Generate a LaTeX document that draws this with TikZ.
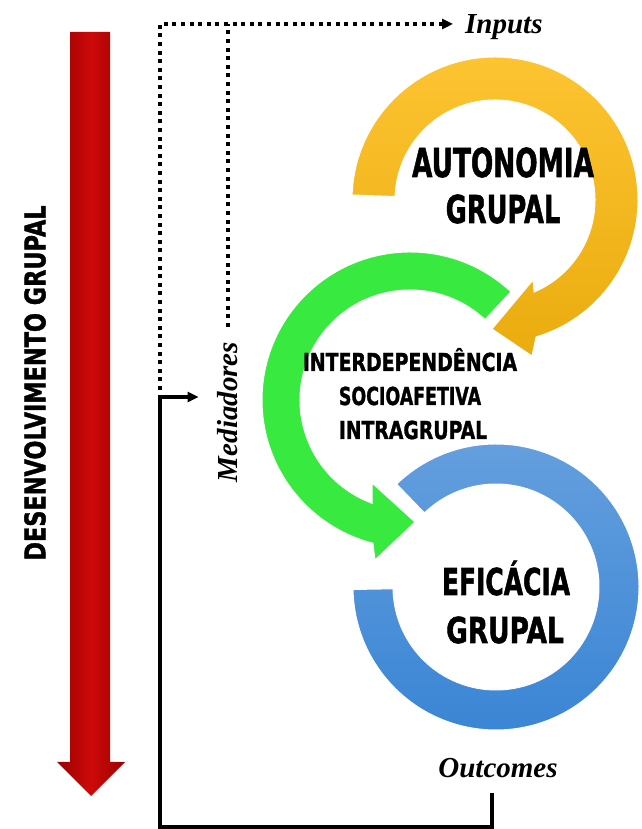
\documentclass[tikz,border=0pt]{standalone}
\usepackage{fontspec}
\setmainfont{Liberation Serif}
\newfontfamily\ringfont{DejaVu Sans}[BoldFeatures={FakeBold=1.6}]
\usetikzlibrary{arrows.meta,calc}
\definecolor{redA}{RGB}{205,10,10}
\definecolor{redB}{RGB}{155,0,0}
\definecolor{yelA}{RGB}{253,196,50}
\definecolor{yelB}{RGB}{234,172,14}
\definecolor{grnA}{RGB}{56,233,64}
\definecolor{bluA}{RGB}{102,160,222}
\definecolor{bluB}{RGB}{56,132,212}
\tikzset{
  lab/.style={font=\fontsize{29}{32}\selectfont\bfseries\itshape, inner sep=0pt},
  rt/.style={inner sep=0pt, anchor=base, font=\ringfont\bfseries\fontsize{10}{12}\selectfont},
  dots/.style={line width=4pt, dash pattern=on 4pt off 4.6pt},
  conn/.style={line width=3.2pt, line join=miter},
  ring/.style={draw=white, line width=1pt},
}
\begin{document}
\begin{tikzpicture}[x=1pt,y=1pt]
\useasboundingbox (0,0) rectangle (641,829);
\fill[white] (0,0) rectangle (641,829);

% red development arrow
\shade[left color=redB, right color=redB, middle color=redA]
  (70,797) -- (110,797) -- (110,67) -- (125,67) -- (91,33) -- (57,67) -- (70,67) -- cycle;
\node[rt, anchor=center, rotate=90] (dev) at (35,446) {\scalebox{2.24}[2.85]{DESENVOLVIMENTO GRUPAL}};

% ring centres
\coordinate (yc) at (495,629);
\coordinate (gc) at (410,429);
\coordinate (bc) at (496,242);

% blue ring
\shade[ring, top color=bluA, bottom color=bluB]
  ($(bc)+(134:143)$) arc[start angle=134, end angle=-179, radius=143]
  -- ($(bc)+(-179:103)$) arc[start angle=-179, end angle=134, radius=103] -- cycle;

% green ring
\fill[ring, fill=grnA]
  ($(gc)+(47:148)$) arc[start angle=47, end angle=255.5, radius=148]
  -- (375,269) -- (415,307) -- (372,346)
  -- ($(gc)+(249.8:110)$) arc[start angle=249.8, end angle=47, radius=110] -- cycle;

% yellow ring
\shade[ring, top color=yelA, bottom color=yelB]
  ($(yc)+(178:143)$) arc[start angle=178, end angle=-73.3, radius=143]
  -- (532,473) -- (492,500) -- (533,549)
  -- ($(yc)+(-67:100)$) arc[start angle=-67, end angle=178, radius=100] -- cycle;

% ring texts
\node[rt] (auto1) at (503,652) {\scalebox{2.63}[3.98]{AUTONOMIA}};
\node[rt] (auto2) at (503,606) {\scalebox{2.57}[3.84]{GRUPAL}};
\node[rt] (int1) at (410,458) {\scalebox{1.89}[2.47]{INTERDEPENDÊNCIA}};
\node[rt] (int2) at (410,424) {\scalebox{1.74}[2.47]{SOCIOAFETIVA}};
\node[rt] (int3) at (413,390) {\scalebox{1.88}[2.47]{INTRAGRUPAL}};
\node[rt] (efi1) at (506,234) {\scalebox{2.50}[3.70]{EFICÁCIA}};
\node[rt] (efi2) at (505,186) {\scalebox{2.64}[3.57]{GRUPAL}};

% labels
\node[lab, anchor=west, text depth=0pt] (inputs) at (465,805) {Inputs};
\node[lab, anchor=base] (outc) at (498,51) {Outcomes};
\node[lab, rotate=90] (med) at (228,417) {Mediadores};

% connectors
\coordinate (jn) at (160,432);
\coordinate (bl) at (160,2);
\coordinate (br) at (492,2);
\draw[dots, -{Triangle[length=11pt,width=10pt]}] ($(jn)+(0,7)$) |- ($(inputs.west)+(-12,0)$);
\draw[dots] ($(med.east)+(0,15)$) -- (med.east |- inputs.west);
\draw[conn, -{Triangle[length=11pt,width=10pt]}, shorten <=14pt, shorten >=19pt]
  (outc.south -| br) -- (br) -- (bl) -- (jn) -- (jn -| med.north);
\end{tikzpicture}
\end{document}
